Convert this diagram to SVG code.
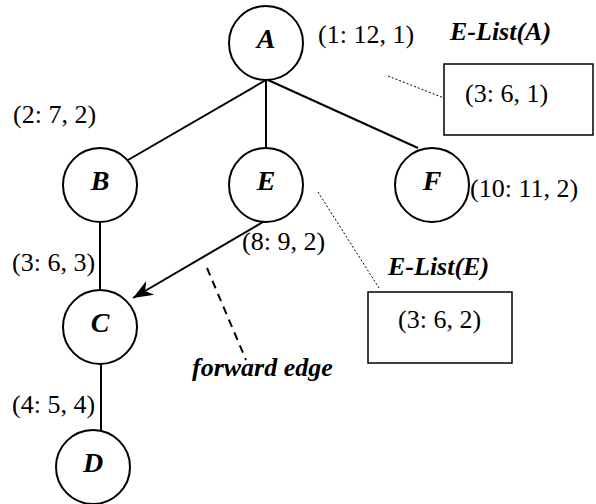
<svg xmlns="http://www.w3.org/2000/svg" width="596" height="504" viewBox="0 0 596 504">
  <style>
    .node circle { fill: #fff; stroke: #000; stroke-width: 2; }
    .node text { font-size: 28px; font-weight: bold; font-style: italic; text-anchor: middle; }
    .edge { stroke: #000; stroke-width: 2; fill: none; }
    .lbl { font-size: 26px; fill: #000; }
    .title { font-size: 26px; font-weight: bold; font-style: italic; fill: #000; }
    .dot { stroke: #000; stroke-width: 1; stroke-dasharray: 2 2; fill: none; }
    .dash { stroke: #000; stroke-width: 2; stroke-dasharray: 8 6; fill: none; }
    .box { fill: #fff; stroke: #000; stroke-width: 1.5; }
  </style>
  <defs>
    <marker id="arrow" markerUnits="userSpaceOnUse" markerWidth="24" markerHeight="20" viewBox="0 0 24 20" refX="22" refY="10" orient="auto">
      <path d="M22,10 L2,2 L8,10 L2,18 Z" fill="#000"/>
    </marker>
  </defs>

  <g font-family="'Liberation Serif', 'DejaVu Serif', serif">
  <!-- tree edges -->
  <g id="connectors">
    <line class="edge" x1="266" y1="80" x2="128" y2="160"/>
    <line class="edge" x1="266" y1="80" x2="266" y2="148"/>
    <line class="edge" x1="268" y1="80" x2="418" y2="148"/>
    <line class="edge" x1="100" y1="222" x2="100" y2="290"/>
    <line class="edge" x1="101" y1="364" x2="101" y2="430"/>
    <line class="edge" x1="263" y1="222" x2="133" y2="298" marker-end="url(#arrow)"/>
    <line class="dash" x1="207" y1="268" x2="246" y2="360"/>
    <line class="dot" x1="388" y1="76" x2="444" y2="98"/>
    <line class="dot" x1="318" y1="192" x2="379" y2="288"/>
  </g>

  <g id="node-A" class="node"><circle cx="266" cy="43" r="37"/><text x="266" y="48">A</text></g>
  <g id="node-B" class="node"><circle cx="100" cy="185" r="37"/><text x="100" y="190">B</text></g>
  <g id="node-E" class="node"><circle cx="266" cy="185" r="37"/><text x="266" y="190">E</text></g>
  <g id="node-F" class="node"><circle cx="432" cy="185" r="37"/><text x="432" y="190">F</text></g>
  <g id="node-C" class="node"><circle cx="100" cy="327" r="37"/><text x="100" y="332">C</text></g>
  <g id="node-D" class="node"><circle cx="93" cy="467" r="37"/><text x="93" y="472">D</text></g>

  <!-- edge lists -->
  <g id="elist-A">
    <text class="title" x="450" y="40">E-List(A)</text>
    <rect class="box" x="444" y="64" width="149" height="71"/>
    <text class="lbl" x="465" y="102">(3: 6, 1)</text>
  </g>
  <g id="elist-E">
    <text class="title" x="388" y="275">E-List(E)</text>
    <rect class="box" x="368" y="292" width="144" height="71"/>
    <text class="lbl" x="398" y="328">(3: 6, 2)</text>
  </g>

  <!-- interval labels -->
  <g id="labels">
    <text class="lbl" x="318" y="43">(1: 12, 1)</text>
    <text class="lbl" x="13" y="123">(2: 7, 2)</text>
    <text class="lbl" x="242" y="250">(8: 9, 2)</text>
    <text class="lbl" x="470" y="197">(10: 11, 2)</text>
    <text class="lbl" x="12" y="271">(3: 6, 3)</text>
    <text class="lbl" x="12" y="413">(4: 5, 4)</text>
    <text class="title" x="192" y="376">forward edge</text>
  </g>
  </g>
</svg>
